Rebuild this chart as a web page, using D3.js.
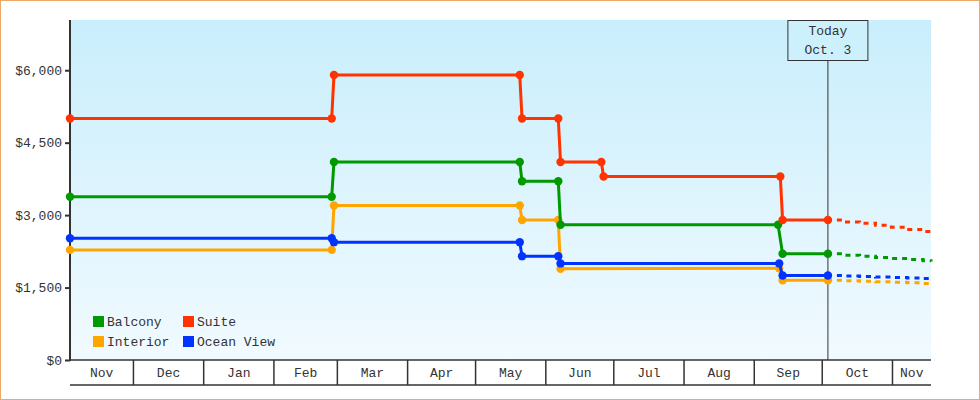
<!DOCTYPE html>
<html>
<head>
<meta charset="utf-8">
<script src="https://cdn.jsdelivr.net/npm/d3@7"></script>
<style>
  body { margin: 0; background: #fff; }
  svg { display: block; }
  text { font-family: "Liberation Mono", monospace; font-size: 13px; fill: #333; }
</style>
</head>
<body>
<svg id="chart" width="980" height="400"></svg>
<script>
// Data
var seriesNames = ["Interior", "Balcony", "Suite", "Ocean View"];
var seriesColors = ["#ffa500", "#009900", "#ff3300", "#0033ff"];

var interiorDates = ["2014-11-03 00:00", "2015-02-26 12:00", "2015-02-27 12:00", "2015-05-20 12:00", "2015-05-21 12:00", "2015-06-06 12:00", "2015-06-07 12:00", "2015-09-12 00:00", "2015-09-13 12:00", "2015-10-03 12:00"];
var interiorPrices = [2280, 2280, 3200, 3200, 2900, 2900, 1890, 1900, 1650, 1650];

var balconyDates = ["2014-11-03 00:00", "2015-02-26 12:00", "2015-02-27 12:00", "2015-05-20 12:00", "2015-05-21 12:00", "2015-06-06 12:00", "2015-06-07 12:00", "2015-09-11 12:00", "2015-09-13 12:00", "2015-10-03 12:00"];
var balconyPrices = [3380, 3380, 4100, 4100, 3700, 3700, 2800, 2800, 2200, 2200];

var suiteDates = ["2014-11-03 00:00", "2015-02-26 12:00", "2015-02-27 12:00", "2015-05-20 12:00", "2015-05-21 12:00", "2015-06-06 12:00", "2015-06-07 12:00", "2015-06-25 12:00", "2015-06-26 12:00", "2015-09-12 12:00", "2015-09-13 12:00", "2015-10-03 12:00"];
var suitePrices = [5000, 5000, 5900, 5900, 5000, 5000, 4100, 4100, 3800, 3800, 2900, 2900];

var oceanDates = ["2014-11-03 00:00", "2015-02-26 12:00", "2015-02-27 12:00", "2015-05-20 12:00", "2015-05-21 12:00", "2015-06-06 12:00", "2015-06-07 12:00", "2015-09-12 00:00", "2015-09-13 12:00", "2015-10-03 12:00"];
var oceanPrices = [2520, 2520, 2440, 2440, 2150, 2150, 2000, 2000, 1750, 1750];

// forecast after today
var forecastDates = ["2015-10-03 12:00", "2015-10-10 12:00", "2015-10-17 12:00", "2015-10-24 12:00", "2015-10-31 12:00", "2015-11-07 12:00", "2015-11-14 12:00", "2015-11-18 00:00"];
var interiorForecast = [1650, 1640, 1630, 1620, 1610, 1600, 1585, 1575];
var balconyForecast = [2200, 2170, 2150, 2120, 2100, 2080, 2055, 2040];
var suiteForecast = [2900, 2860, 2830, 2790, 2750, 2700, 2660, 2630];
var oceanForecast = [1750, 1740, 1730, 1720, 1710, 1700, 1685, 1670];

var yTicks = [0, 1500, 3000, 4500, 6000];
var todayDate = "2015-10-03 12:00";
var todayLabel = ["Today", "Oct. 3"];
var axisStart = "2014-11-03 00:00";
var axisEnd = "2015-11-18 00:00";

//Draw
var parse = d3.timeParse("%Y-%m-%d %H:%M");
var svg = d3.select("#chart");

var plotLeft = 70, plotRight = 931, plotTop = 20, plotBottom = 360;

var x = d3.scaleTime().domain([parse(axisStart), parse(axisEnd)]).range([plotLeft, plotRight]);
var y = d3.scaleLinear().domain([0, 7040]).range([plotBottom, plotTop]);

// outer frame
svg.append("rect")
   .attr("x", 0.5).attr("y", 0.5).attr("width", 979).attr("height", 399)
   .style("fill", "#fff").style("stroke", "#e8aa66");

// background gradient
var grad = svg.append("defs").append("linearGradient")
   .attr("id", "bg").attr("x1", 0).attr("y1", 0).attr("x2", 0).attr("y2", 1);
grad.append("stop").attr("offset", "0%").attr("stop-color", "#c9eefc");
grad.append("stop").attr("offset", "100%").attr("stop-color", "#f1faff");

svg.append("rect")
   .attr("x", plotLeft).attr("y", plotTop).attr("width", plotRight - plotLeft).attr("height", plotBottom - plotTop)
   .style("fill", "url(#bg)");

// Axis Y
var yAxis = svg.append("g")
   .attr("class", "axis axis--y")
   .attr("transform", "translate(" + plotLeft + ",0)")
   .call(d3.axisLeft(y).tickValues(yTicks).tickFormat(d3.format("$,")).tickSize(5).tickPadding(3));
yAxis.select(".domain").remove();
yAxis.selectAll("line").style("stroke", "#333").style("stroke-width", 2);
yAxis.selectAll("text").style("font-size", "13px").style("fill", "#333")
   .style("font-family", "Liberation Mono, monospace");
svg.append("line")
   .attr("x1", plotLeft).attr("x2", plotLeft).attr("y1", plotTop).attr("y2", plotBottom + 1)
   .style("stroke", "#333").style("stroke-width", 2);

// Axis X : month bands
var months = d3.timeMonth.range(d3.timeMonth.floor(x.domain()[0]), x.domain()[1]);
var bandTop = plotBottom, bandBottom = 385;

svg.append("line")
   .attr("x1", plotLeft).attr("x2", plotRight).attr("y1", bandTop).attr("y2", bandTop)
   .style("stroke", "#333").style("stroke-width", 1.5);
svg.append("line")
   .attr("x1", plotLeft).attr("x2", plotRight).attr("y1", bandBottom).attr("y2", bandBottom)
   .style("stroke", "#333").style("stroke-width", 1.5);

svg.selectAll("line.month-sep")
   .data(months.filter(function(m) { return m > x.domain()[0]; }))
   .enter().append("line")
   .attr("class", "month-sep")
   .attr("x1", function(m) { return x(m); })
   .attr("x2", function(m) { return x(m); })
   .attr("y1", bandTop).attr("y2", bandBottom)
   .style("stroke", "#333").style("stroke-width", 1.5);

svg.selectAll("text.month-label")
   .data(months)
   .enter().append("text")
   .attr("class", "month-label")
   .attr("x", function(m) {
      var a = Math.max(x(m), plotLeft);
      var b = Math.min(x(d3.timeMonth.offset(m, 1)), plotRight);
      return (a + b) / 2;
   })
   .attr("y", 377)
   .attr("text-anchor", "middle")
   .text(d3.timeFormat("%b"));

// Today marker
var xToday = x(parse(todayDate));
svg.append("line")
   .attr("x1", xToday).attr("x2", xToday).attr("y1", 60).attr("y2", plotBottom)
   .style("stroke", "#333").style("stroke-width", 1);
svg.append("rect")
   .attr("x", xToday - 40).attr("y", 20.5).attr("width", 80).attr("height", 40)
   .style("fill", "#cdf0fd").style("stroke", "#333").style("stroke-width", 1);
svg.selectAll("text.today-label")
   .data(todayLabel)
   .enter().append("text")
   .attr("class", "today-label")
   .attr("x", xToday)
   .attr("y", function(d, i) { return 35 + i * 19; })
   .attr("text-anchor", "middle")
   .text(function(d) { return d; });

// Series
var seriesList = [
   { dates: interiorDates, prices: interiorPrices, forecast: interiorForecast },
   { dates: balconyDates, prices: balconyPrices, forecast: balconyForecast },
   { dates: suiteDates, prices: suitePrices, forecast: suiteForecast },
   { dates: oceanDates, prices: oceanPrices, forecast: oceanForecast }
];

var line = d3.line()
   .x(function(d) { return x(d[0]); })
   .y(function(d) { return y(d[1]); });

var stepLine = d3.line()
   .curve(d3.curveStepAfter)
   .x(function(d) { return x(d[0]); })
   .y(function(d) { return y(d[1]); });

seriesList.forEach(function(s, i) {
   var pts = s.dates.map(function(d, j) { return [parse(d), s.prices[j]]; });
   var fpts = forecastDates.map(function(d, j) { return [parse(d), s.forecast[j]]; });
   var g = svg.append("g").attr("class", "series");

   g.append("path")
    .attr("d", stepLine(fpts))
    .style("fill", "none")
    .style("stroke", seriesColors[i])
    .style("stroke-width", 3)
    .style("stroke-dasharray", "5,5")
    .style("stroke-dashoffset", 1);

   g.append("path")
    .attr("d", line(pts))
    .style("fill", "none")
    .style("stroke", seriesColors[i])
    .style("stroke-width", 3);

   g.selectAll("circle")
    .data(pts).enter()
    .append("circle")
    .attr("cx", function(d) { return x(d[0]); })
    .attr("cy", function(d) { return y(d[1]); })
    .attr("r", 4.2)
    .style("fill", seriesColors[i]);
});

// Legend
var legendOrder = ["Balcony", "Suite", "Interior", "Ocean View"];
var legend = svg.selectAll("g.legend")
   .data(legendOrder).enter()
   .append("g")
   .attr("class", "legend")
   .attr("transform", function(d, i) {
      return "translate(" + (93 + (i % 2) * 90) + "," + (316 + Math.floor(i / 2) * 20) + ")";
   });
legend.append("rect")
   .attr("width", 11).attr("height", 11)
   .style("fill", function(d) { return seriesColors[seriesNames.indexOf(d)]; });
legend.append("text")
   .attr("x", 14).attr("y", 10)
   .text(function(d) { return d; });
</script>
</body>
</html>
